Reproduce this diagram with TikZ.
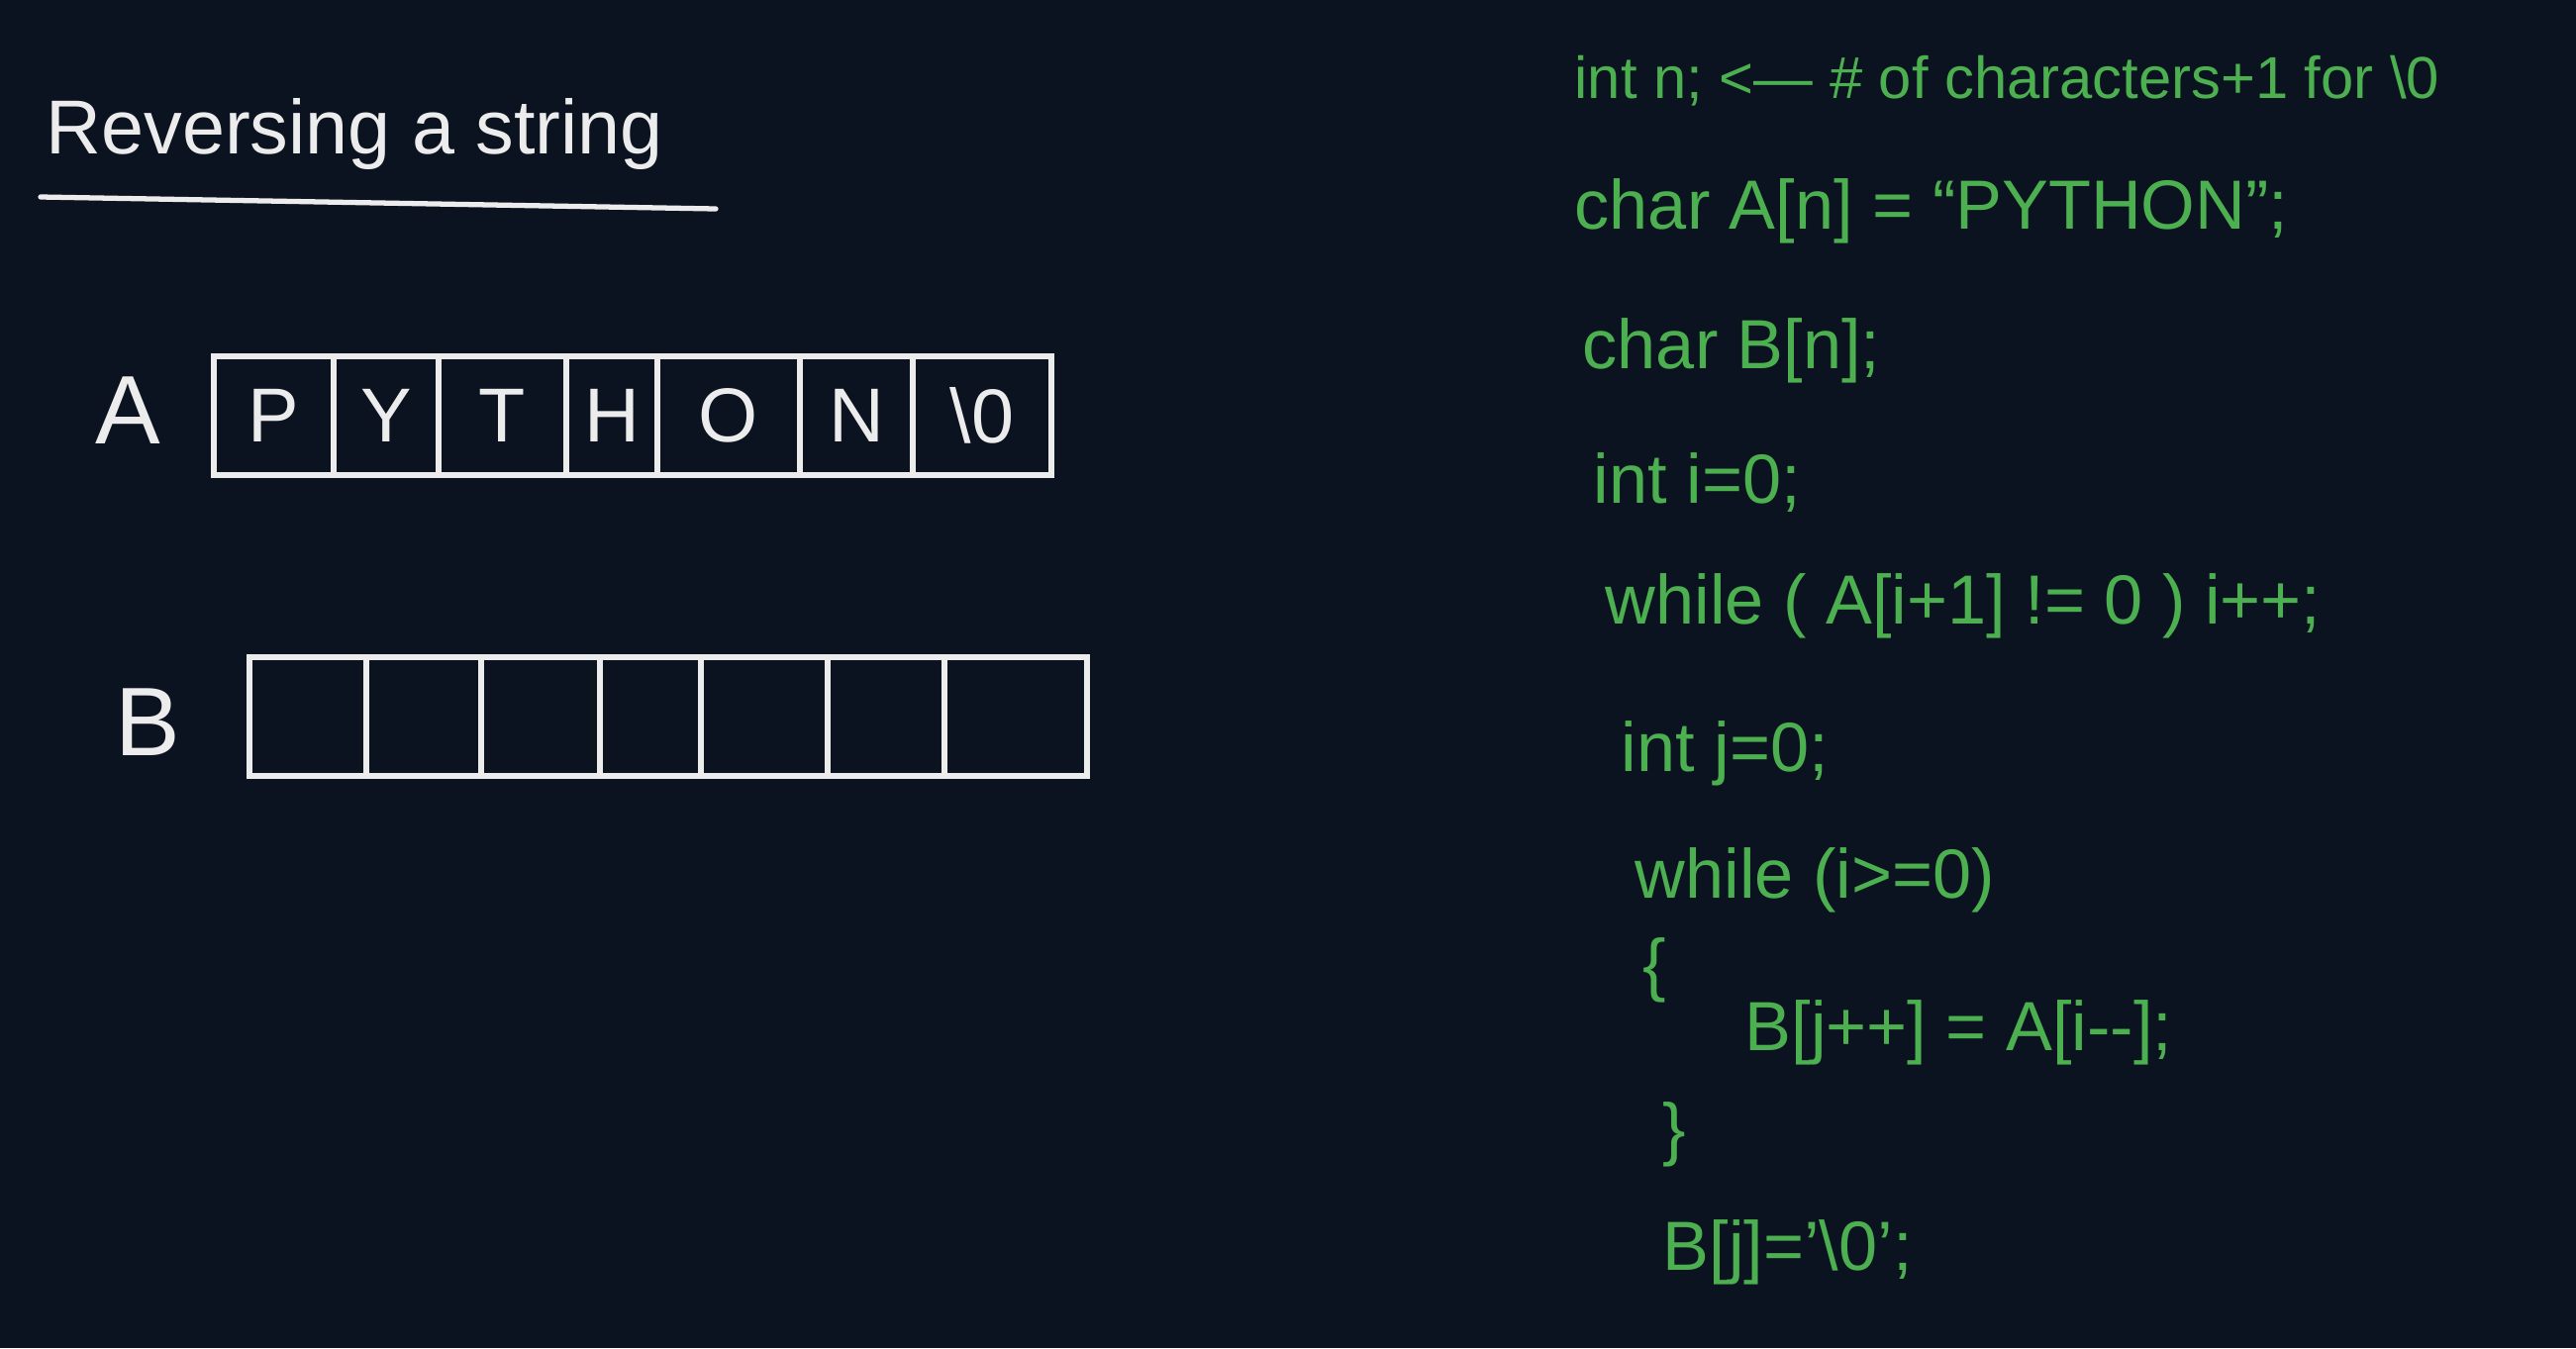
\documentclass[tikz,border=0pt]{standalone}
\usepackage{fontspec}
\setmainfont{Liberation Sans}
\usepackage{xcolor}
\usepackage{tikz}
\definecolor{boardbg}{RGB}{11,19,32}
\definecolor{chalkwhite}{RGB}{236,236,236}
\definecolor{codegreen}{RGB}{76,175,80}

\begin{document}
\begin{tikzpicture}[
  cell/.style={draw=chalkwhite, line width=1.5pt, rectangle, minimum height=1.2cm, inner sep=0pt, text=chalkwhite, font=\fontsize{22}{24}\selectfont},
  arrlabel/.style={text=chalkwhite, inner sep=0pt, font=\fontsize{28}{30}\selectfont},
  codeline/.style={anchor=west, inner sep=0pt, text height=0.5cm, text depth=0.12cm, text=codegreen, font=\fontsize{20}{24}\selectfont}
]
\fill[boardbg] (0,0) rectangle (26.02,-13.62);
\useasboundingbox (0,0) rectangle (26.02,-13.62);

% Title
\node[anchor=west, inner sep=0pt, text=chalkwhite, font=\fontsize{22}{26}\selectfont] (title) at (0.46,-1.35) {Reversing a string};
\draw[chalkwhite, line width=1.5pt, line cap=round] (0.41,-1.99) -- (7.23,-2.11);

% Array A
\node[arrlabel] (labelA) at (1.29,-4.15) {A};
\node[cell, minimum width=1.21cm] (a1) at (2.765,-4.2) {P};
\node[cell, minimum width=1.06cm] (a2) at (3.90,-4.2) {Y};
\node[cell, minimum width=1.29cm] (a3) at (5.075,-4.2) {T};
\node[cell, minimum width=0.92cm] (a4) at (6.18,-4.2) {H};
\node[cell, minimum width=1.44cm] (a5) at (7.36,-4.2) {O};
\node[cell, minimum width=1.14cm] (a6) at (8.65,-4.2) {N};
\node[cell, minimum width=1.40cm] (a7) at (9.92,-4.2) {\textbackslash 0};

% Array B
\node[arrlabel] (labelB) at (1.49,-7.30) {B};
\node[cell, minimum width=1.18cm] (b1) at (3.11,-7.24) {};
\node[cell, minimum width=1.16cm] (b2) at (4.28,-7.24) {};
\node[cell, minimum width=1.20cm] (b3) at (5.46,-7.24) {};
\node[cell, minimum width=1.02cm] (b4) at (6.57,-7.24) {};
\node[cell, minimum width=1.28cm] (b5) at (7.72,-7.24) {};
\node[cell, minimum width=1.18cm] (b6) at (8.95,-7.24) {};
\node[cell, minimum width=1.44cm] (b7) at (10.26,-7.24) {};

% Code
\node[codeline, font=\fontsize{17}{20}\selectfont] (c1) at (15.90,-0.80) {int n; <— \# of characters+1 for \textbackslash 0};
\node[codeline] (c2) at (15.90,-2.12) {char A[n] = “PYTHON”;};
\node[codeline] (c3) at (15.98,-3.53) {char B[n];};
\node[codeline] (c4) at (16.09,-4.89) {int i=0;};
\node[codeline] (c5) at (16.21,-6.11) {while ( A[i+1] != 0 ) i++;};
\node[codeline] (c6) at (16.37,-7.60) {int j=0;};
\node[codeline] (c7) at (16.51,-8.88) {while (i>=0)};
\node[codeline] (c8) at (16.59,-9.79) {\{};
\node[codeline] (c9) at (17.62,-10.42) {B[j++] = A[i{-}{-}];};
\node[codeline] (c10) at (16.79,-11.45) {\}};
\node[codeline] (c11) at (16.79,-12.64) {B[j]='\textbackslash 0';};
\end{tikzpicture}
\end{document}
